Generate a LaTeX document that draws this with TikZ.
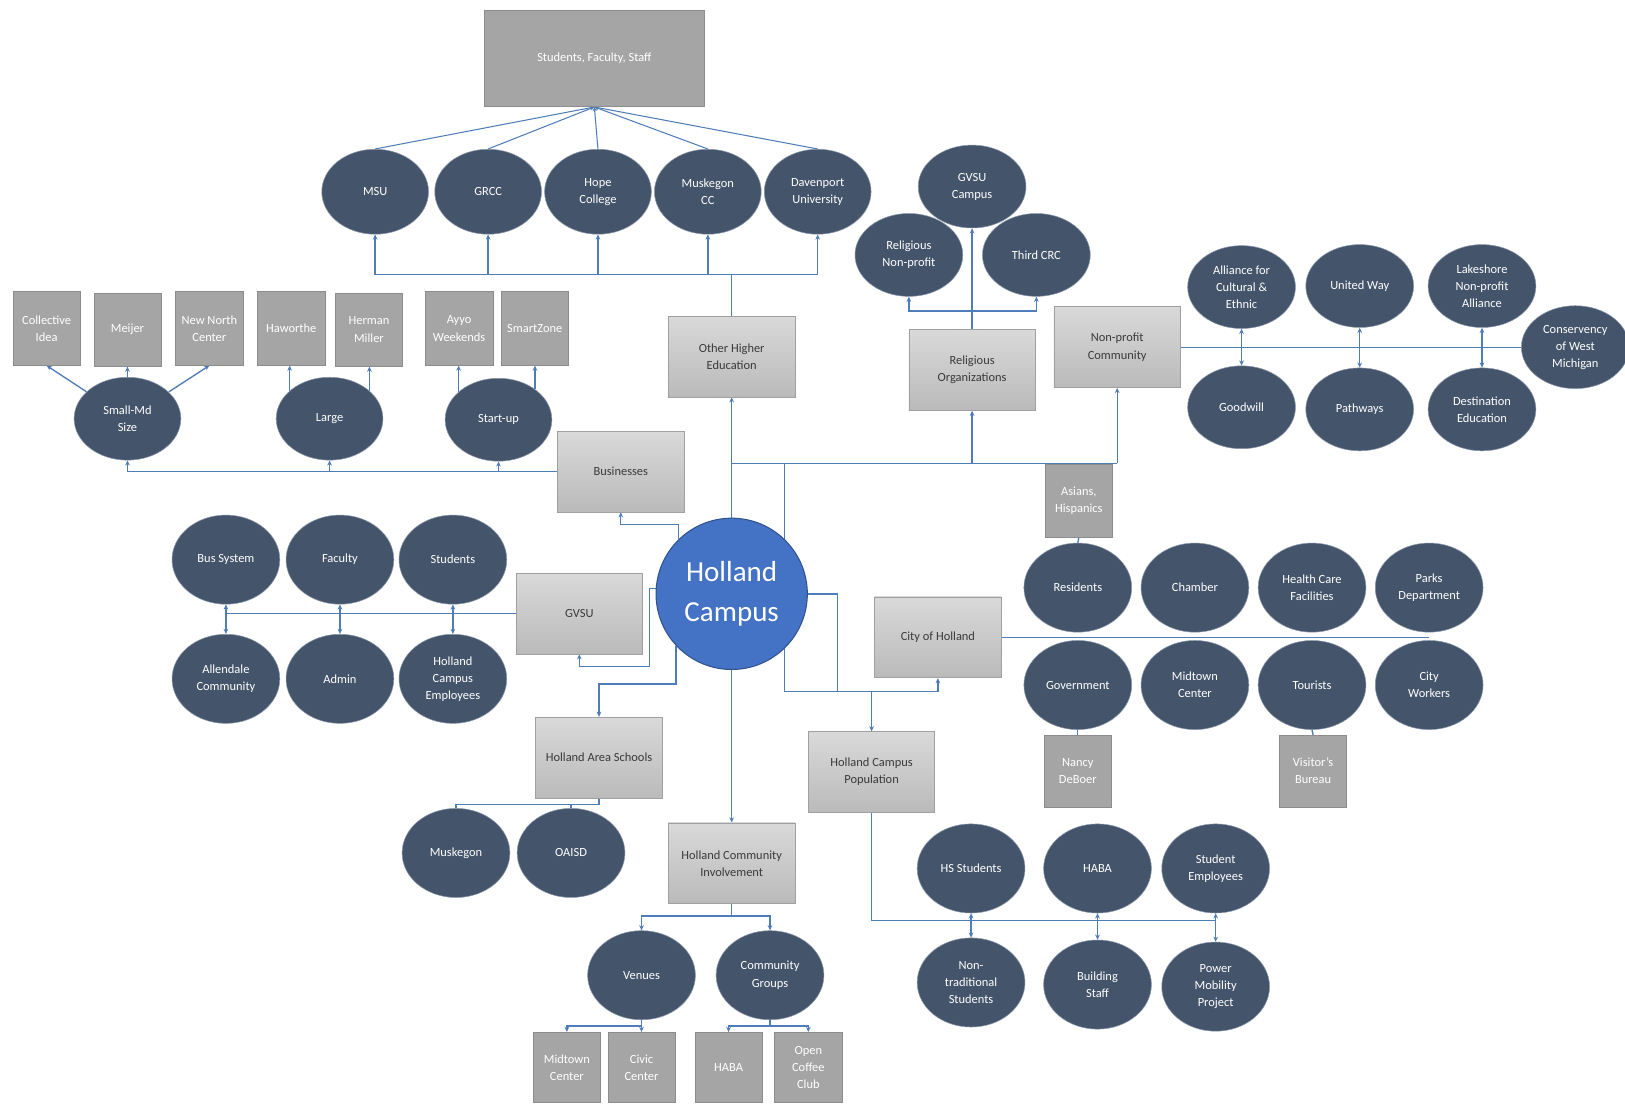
\documentclass[tikz,border=0pt]{standalone}
\usepackage{fontspec}
\setmainfont{Carlito}
\usetikzlibrary{shapes.geometric,arrows.meta}
\definecolor{ellfill}{HTML}{44546A}
\definecolor{elledge}{HTML}{8A98AC}
\definecolor{dgray}{HTML}{A5A5A5}
\definecolor{dedge}{HTML}{8C8C8C}
\definecolor{hcblue}{HTML}{4472C4}
\definecolor{hcedge}{HTML}{2F528F}
\definecolor{lineblue}{HTML}{4F7DB8}
\definecolor{ltop}{HTML}{D9D9D9}
\definecolor{lbot}{HTML}{BABABA}
\definecolor{ledge}{HTML}{A0A0A0}
\definecolor{ltext}{HTML}{3A3A3A}
\pgfdeclarelayer{back}
\pgfdeclarelayer{bg}
\pgfsetlayers{back,bg,main}
\begin{document}
\begin{tikzpicture}[x=1pt,y=-1pt,
  ell/.style={ellipse, fill=ellfill, draw=elledge, line width=0.5pt, text=white, inner sep=0pt, align=center,
    minimum width=104, minimum height=86, font=\fontsize{12}{16.5}\selectfont},
  ellA/.style={ell, minimum width=103, minimum height=82},
  ellB/.style={ell, minimum width=104, minimum height=80},
  dbox/.style={rectangle, fill=dgray, draw=dedge, line width=0.5pt, text=white, inner sep=1pt, align=center,
    minimum width=65, minimum height=71, font=\fontsize{12}{16.5}\selectfont},
  lbox/.style={rectangle, top color=ltop, bottom color=lbot, draw=ledge, line width=0.6pt, text=ltext, inner sep=1pt, align=center,
    minimum width=122, minimum height=78, font=\fontsize{12}{16.5}\selectfont},
  hcnode/.style={circle, fill=hcblue, draw=hcedge, line width=1pt, text=white, inner sep=0pt, align=center,
    minimum size=146, font=\fontsize{28}{38}\selectfont},
  conn/.style={draw=lineblue, line width=1.3pt},
  arr/.style={conn, -{Stealth[length=5pt,width=4.5pt]}},
  arrsm/.style={conn, line width=1pt, -{Stealth[length=4pt,width=4pt]}},
  arrtwo/.style={conn, {Stealth[length=5pt,width=4.5pt]}-{Stealth[length=5pt,width=4.5pt]}}
]
\useasboundingbox (0,0) rectangle (1568,1065);
\begin{pgfonlayer}{back}
\fill[white] (0,0) rectangle (1568,1065);
\end{pgfonlayer}

% ---------- central ----------
\node[hcnode] (hc) at (706,573) {Holland\\Campus};

% ---------- top / higher education ----------
\node[dbox, minimum width=213, minimum height=93] (sfs) at (573.5,56.5) {Students, Faculty, Staff};
\node[ellA] (msu) at (362,185) {MSU};
\node[ellA] (grcc) at (471,185) {GRCC};
\node[ellA] (hope) at (577,185) {Hope\\College};
\node[ellA] (mcc) at (683,185) {Muskegon\\CC};
\node[ellA] (dav) at (789,185) {Davenport\\University};
\node[lbox] (ohe) at (706,344) {Other Higher\\Education};

% ---------- businesses ----------
\node[lbox] (busi) at (599,455) {Businesses};
\node[ellB, minimum width=103] (small) at (123,404) {Small-Md\\Size};
\node[ellB, minimum width=103] (lg) at (318,404) {Large};
\node[ellB, minimum width=103] (st) at (481,405) {Start-up};
\node[dbox] (ci) at (45,317) {Collective\\Idea};
\node[dbox] (mei) at (123,318) {Meijer};
\node[dbox] (nnc) at (202,317) {New North\\Center};
\node[dbox] (haw) at (281,317) {Haworthe};
\node[dbox] (hmil) at (356,318) {Herman\\Miller};
\node[dbox] (ayyo) at (443,317) {Ayyo\\Weekends};
\node[dbox] (sz) at (516,317) {SmartZone};

% ---------- GVSU ----------
\node[lbox] (gvsu) at (559,592) {GVSU};
\node[ell] (bussys) at (218,540) {Bus System};
\node[ell] (fac) at (328,540) {Faculty};
\node[ell] (stu) at (437,540) {Students};
\node[ell] (allen) at (218,655) {Allendale\\Community};
\node[ell] (adm) at (328,655) {Admin};
\node[ell] (hce) at (437,655) {Holland\\Campus\\Employees};

% ---------- schools ----------
\node[lbox] (has) at (578,731) {Holland Area Schools};
\node[ell] (muskeg) at (440,823) {Muskegon};
\node[ell] (oaisd) at (551,823) {OAISD};

% ---------- community involvement ----------
\node[lbox] (hci) at (706,833) {Holland Community\\Involvement};
\node[ell] (ven) at (619,941) {Venues};
\node[ell] (cg) at (743,941) {Community\\Groups};
\node[dbox, minimum height=68] (mid) at (547,1030) {Midtown\\Center};
\node[dbox, minimum height=68] (civ) at (619,1030) {Civic\\Center};
\node[dbox, minimum height=68] (habab) at (703,1030) {HABA};
\node[dbox, minimum height=68] (occ) at (780,1030) {Open\\Coffee\\Club};

% ---------- religious ----------
\node[lbox] (ro) at (938,357) {Religious\\Organizations};
\node[ellB] (gvc) at (938,180) {GVSU\\Campus};
\node[ellB] (rnp) at (877,246) {Religious\\Non-profit};
\node[ellB] (crc) at (1000,246) {Third CRC};

% ---------- non-profit ----------
\node[lbox] (npc) at (1078,335) {Non-profit\\Community};
\node[ellB] (acd) at (1198,277) {Alliance for\\Cultural \&\\Ethnic};
\node[ellB] (uw) at (1312,276) {United Way};
\node[ellB] (lna) at (1430,276) {Lakeshore\\Non-profit\\Alliance};
\node[ellB] (gw) at (1198,393) {Goodwill};
\node[ellB] (pw) at (1312,395) {Pathways};
\node[ellB] (dest) at (1430,395) {Destination\\Education};
\node[ellB] (cwm) at (1520,335) {Conservency\\of West\\Michigan};

% ---------- city of Holland ----------
\node[lbox] (coh) at (905,615) {City of Holland};
\node[dbox] (asian) at (1041,483) {Asians,\\Hispanics};
\node[ell] (res) at (1040,567) {Residents};
\node[ell] (cham) at (1153,567) {Chamber};
\node[ell] (hcf) at (1266,567) {Health Care\\Facilities};
\node[ell] (pd) at (1379,567) {Parks\\Department};
\node[ell] (gov) at (1040,661) {Government};
\node[ell] (midc) at (1153,661) {Midtown\\Center};
\node[ell] (tour) at (1266,661) {Tourists};
\node[ell] (cw) at (1379,661) {City\\Workers};
\node[dbox, minimum height=69] (nancy) at (1040,744) {Nancy\\DeBoer};
\node[dbox, minimum height=69] (vis) at (1267,744) {Visitor’s\\Bureau};

% ---------- campus population ----------
\node[lbox] (hcp) at (841,745) {Holland Campus\\Population};
\node[ell] (hss) at (937,838) {HS Students};
\node[ell] (haba) at (1059,838) {HABA};
\node[ell] (se) at (1173,838) {Student\\Employees};
\node[ell] (nts) at (937,948) {Non-\\traditional\\Students};
\node[ell] (bst) at (1059,950) {Building\\Staff};
\node[ell] (pmp) at (1173,952) {Power\\Mobility\\Project};

% bus coordinates
\coordinate (ohebus) at (706,265);
\coordinate (rbus) at (757,447);
\coordinate (lbus) at (757,667);
\coordinate (rcorner) at (808,667);
\coordinate (bz) at (655,506);
\coordinate (gz) at (627,643);
\coordinate (hz) at (653,660);
\coordinate (mz) at (578,776);
\coordinate (vz) at (706,884);
\coordinate (vz2) at (619,990);
\coordinate (cz) at (743,990);
\coordinate (pz) at (841,888);
\coordinate (rz) at (938,300);

\begin{pgfonlayer}{bg}
% top
\foreach \n in {msu,grcc,hope,mcc,dav}{\draw[arrsm] (\n.north) -- (sfs.south);}
\draw[conn] (msu.south |- ohebus) -- (dav.south |- ohebus);
\foreach \n in {msu,grcc,hope,mcc,dav}{\draw[arr] (\n.south |- ohebus) -- (\n.south);}
\draw[conn] (ohe.north) -- (ohebus);
\draw[arr] (hc.north) -- (ohe.south);
% right bus
\draw[conn] (hc.north |- rbus) -- (npc.south |- rbus);
\draw[arr] (ro.south |- rbus) -- (ro.south);
\draw[arr] (npc.south |- rbus) -- (npc.south);
\draw[arr] (rbus) -- (lbus) -| (coh.south);
\draw[conn] (hc.east) -| (rcorner);
\draw[arr] (hcp.north |- lbus) -- (hcp.north);
% businesses
\draw[arr] (hc.134) -- (hc.134 |- bz) -| (busi.south);
\draw[conn] (busi.west) -- (small.south |- busi.west);
\foreach \n in {small,lg,st}{\draw[arr] (\n.south |- busi.west) -- (\n.south);}
\foreach \n in {ci,mei,nnc}{\draw[arr] (small) -- (\n.south);}
\draw[arr] (lg.145) -- (lg.145 |- haw.south);
\draw[arr] (lg.35) -- (lg.35 |- hmil.south);
\draw[arr] (st.145) -- (st.145 |- ayyo.south);
\draw[arr] (st.40) -- (st.40 |- sz.south);
% GVSU
\draw[arr] (hc.176) -| (gz) -| (gvsu.south);
\draw[conn] (gvsu.west) -- (bussys.south |- gvsu.west);
\draw[arrtwo] (bussys.south) -- (allen.north);
\draw[arrtwo] (fac.south) -- (adm.north);
\draw[arrtwo] (stu.south) -- (hce.north);
% schools
\draw[arr] (hc.223) -- (hc.223 |- hz) -| (has.north);
\draw[conn] (has.south) -- (mz) -- (muskeg.north |- mz) -- (muskeg.north);
\draw[conn] (oaisd.north |- mz) -- (oaisd.north);
% community involvement
\draw[arr] (hc.south) -- (hci.north);
\draw[conn] (hci.south) -- (vz);
\draw[arr] (vz) -| (ven.north);
\draw[arr] (vz) -| (cg.north);
\draw[conn] (ven.south) -- (vz2);
\draw[arr] (vz2) -| (mid.north);
\draw[arr] (vz2) -- (civ.north);
\draw[conn] (cg.south) -- (cz);
\draw[arr] (cz) -| (habab.north);
\draw[arr] (cz) -| (occ.north);
% religious
\draw[arr] (ro.north) -- (gvc.south);
\draw[arr] (rz) -| (rnp.south);
\draw[arr] (rz) -| (crc.south);
% non-profit
\draw[conn] (npc.east) -- (cwm.west);
\draw[arrtwo] (acd.south) -- (gw.north);
\draw[arrtwo] (uw.south) -- (pw.north);
\draw[arrtwo] (lna.south) -- (dest.north);
% city
\draw[conn] (coh.east) -- (pd.south |- coh.east);
\draw[conn] (asian.south) -- (res.north);
\draw[conn] (gov.south) -- (nancy.north);
\draw[conn] (tour.south) -- (vis.north);
% campus population
\draw[conn] (hcp.south) -- (pz) -- (se.south |- pz);
\draw[arrtwo] (hss.south) -- (nts.north);
\draw[arrtwo] (haba.south) -- (bst.north);
\draw[arrtwo] (se.south) -- (pmp.north);
\end{pgfonlayer}
\end{tikzpicture}
\end{document}
